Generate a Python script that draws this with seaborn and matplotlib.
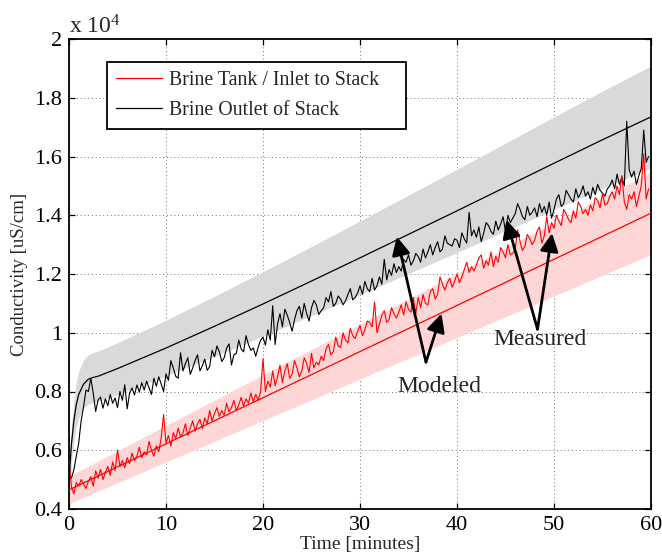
import numpy as np
import matplotlib
matplotlib.use("Agg")
import matplotlib.pyplot as plt
import seaborn as sns
from matplotlib.lines import Line2D

# ---------------- data (conductivity in units of 10^4 uS/cm) ----------------
series_names = ["Brine Tank / Inlet to Stack", "Brine Outlet of Stack"]
annotation_labels = ["Modeled", "Measured"]
x_ticks = [0, 10, 20, 30, 40, 50, 60]
y_ticks = [0.4, 0.6, 0.8, 1.0, 1.2, 1.4, 1.6, 1.8, 2.0]
y_tick_labels = ["0.4", "0.6", "0.8", "1", "1.2", "1.4", "1.6", "1.8", "2"]

# modeled inlet (linear)
inlet_model_time = [0, 20, 40, 60]
inlet_model_value = [0.465, 0.779, 1.093, 1.407]

# modeled outlet
outlet_model_time = [0, 0.25, 0.5, 0.75, 1.0, 1.5, 2.0, 2.5, 3.0, 5, 10, 15, 20, 25,
                     30, 35, 40, 45, 50, 55, 60]
outlet_model_value = [0.50, 0.62, 0.70, 0.755, 0.79, 0.825, 0.842, 0.848, 0.852, 0.878,
                      0.948, 1.022, 1.098, 1.176, 1.255, 1.335, 1.415, 1.496, 1.577,
                      1.657, 1.735]

model_uncertainty = 0.10  # +/- fraction of the shaded band

sample_minutes = 0.25
outlet_measured = [
    0.500, 0.505, 0.533, 0.580, 0.624, 0.700, 0.748, 0.805,
    0.800, 0.845, 0.794, 0.732, 0.771, 0.781, 0.743, 0.775,
    0.752, 0.790, 0.760, 0.778, 0.745, 0.800, 0.770, 0.823,
    0.741, 0.795, 0.812, 0.788, 0.822, 0.798, 0.830, 0.805,
    0.835, 0.812, 0.790, 0.845, 0.818, 0.850, 0.826, 0.800,
    0.860, 0.838, 0.905, 0.880, 0.852, 0.845, 0.932, 0.870,
    0.895, 0.915, 0.858, 0.880, 0.905, 0.925, 0.870, 0.888,
    0.910, 0.872, 0.885, 0.940, 0.918, 0.955, 0.935, 0.902,
    0.915, 0.948, 0.962, 0.890, 0.925, 0.930, 0.975, 0.945,
    0.935, 0.990, 0.960, 0.940, 0.948, 0.920, 0.950, 0.975,
    0.985, 0.958, 1.010, 0.975, 1.092, 0.960, 1.030, 1.065,
    1.020, 1.080, 1.060, 1.035, 1.005, 1.045, 1.075, 1.090,
    1.050, 1.100, 1.065, 1.040, 1.085, 1.110, 1.095, 1.062,
    1.075, 1.085, 1.120, 1.105, 1.140, 1.090, 1.100, 1.125,
    1.115, 1.095, 1.108, 1.130, 1.150, 1.112, 1.120, 1.135,
    1.160, 1.130, 1.175, 1.150, 1.140, 1.185, 1.145, 1.160,
    1.190, 1.165, 1.250, 1.180, 1.215, 1.195, 1.235, 1.205,
    1.225, 1.210, 1.250, 1.240, 1.265, 1.230, 1.245, 1.270,
    1.260, 1.240, 1.285, 1.255, 1.275, 1.300, 1.265, 1.290,
    1.310, 1.275, 1.285, 1.330, 1.305, 1.300, 1.295, 1.320,
    1.315, 1.290, 1.340, 1.320, 1.305, 1.410, 1.330, 1.350,
    1.325, 1.360, 1.310, 1.340, 1.375, 1.365, 1.345, 1.335,
    1.380, 1.350, 1.370, 1.395, 1.345, 1.400, 1.375, 1.390,
    1.405, 1.440, 1.420, 1.395, 1.385, 1.430, 1.400, 1.410,
    1.425, 1.395, 1.440, 1.410, 1.430, 1.400, 1.445, 1.390,
    1.420, 1.455, 1.470, 1.430, 1.440, 1.485, 1.470, 1.455,
    1.445, 1.490, 1.460, 1.475, 1.500, 1.465, 1.480, 1.455,
    1.495, 1.470, 1.505, 1.485, 1.475, 1.465, 1.490, 1.500,
    1.520, 1.490, 1.540, 1.505, 1.530, 1.500, 1.720, 1.555,
    1.530, 1.550, 1.505, 1.535, 1.560, 1.690, 1.580, 1.600,
]
inlet_measured = [
    0.567, 0.475, 0.452, 0.490, 0.478, 0.500, 0.485, 0.470,
    0.495, 0.510, 0.477, 0.530, 0.505, 0.535, 0.500, 0.525,
    0.545, 0.515, 0.560, 0.530, 0.600, 0.545, 0.565, 0.540,
    0.575, 0.555, 0.590, 0.565, 0.580, 0.610, 0.575, 0.595,
    0.585, 0.630, 0.600, 0.580, 0.615, 0.595, 0.640, 0.722,
    0.625, 0.650, 0.615, 0.660, 0.640, 0.675, 0.645, 0.660,
    0.690, 0.650, 0.675, 0.700, 0.665, 0.690, 0.705, 0.675,
    0.710, 0.690, 0.735, 0.700, 0.725, 0.745, 0.715, 0.735,
    0.720, 0.760, 0.730, 0.745, 0.770, 0.735, 0.755, 0.780,
    0.750, 0.775, 0.760, 0.795, 0.765, 0.790, 0.770, 0.800,
    0.912, 0.800, 0.835, 0.815, 0.870, 0.820, 0.850, 0.890,
    0.830, 0.870, 0.895, 0.845, 0.860, 0.905, 0.880, 0.850,
    0.870, 0.915, 0.895, 0.865, 0.930, 0.880, 0.900, 0.890,
    0.920, 0.905, 0.945, 0.960, 0.925, 0.935, 0.985, 0.955,
    0.950, 1.000, 0.975, 0.965, 1.015, 0.990, 0.980, 1.005,
    1.025, 0.990, 1.010, 1.040, 1.035, 1.020, 1.105, 1.000,
    1.030, 1.060, 1.075, 1.035, 1.045, 1.085, 1.065, 1.050,
    1.070, 1.095, 1.060, 1.105, 1.080, 1.070, 1.120, 1.065,
    1.120, 1.085, 1.130, 1.100, 1.095, 1.140, 1.150, 1.115,
    1.130, 1.190, 1.165, 1.145, 1.170, 1.185, 1.155, 1.175,
    1.200, 1.170, 1.190, 1.215, 1.240, 1.205, 1.225, 1.210,
    1.230, 1.255, 1.265, 1.220, 1.245, 1.230, 1.275, 1.225,
    1.260, 1.240, 1.290, 1.275, 1.255, 1.300, 1.265, 1.270,
    1.285, 1.350, 1.310, 1.280, 1.295, 1.335, 1.320, 1.300,
    1.315, 1.345, 1.360, 1.305, 1.330, 1.395, 1.340, 1.375,
    1.355, 1.400, 1.380, 1.365, 1.420, 1.405, 1.385, 1.375,
    1.415, 1.390, 1.445, 1.430, 1.405, 1.420, 1.400, 1.435,
    1.415, 1.460, 1.450, 1.425, 1.475, 1.435, 1.440, 1.465,
    1.480, 1.455, 1.500, 1.470, 1.535, 1.445, 1.420, 1.470,
    1.455, 1.480, 1.430, 1.465, 1.500, 1.610, 1.455, 1.490,
]

# annotation arrows: (tail, tip) in data coordinates
modeled_text_pos = (38.2, 0.816)
measured_text_pos = (48.6, 0.978)
modeled_arrow_tail = (36.8, 0.900)
modeled_arrow_tips = [(33.8, 1.327), (38.4, 1.065)]
measured_arrow_tail = (48.3, 1.012)
measured_arrow_tips = [(45.1, 1.384), (49.8, 1.339)]

# ---------------- styling ----------------
sns.set_theme(style="white")
plt.rcParams["font.family"] = ["Liberation Serif", "DejaVu Serif"]
plt.rcParams["mathtext.fontset"] = "custom"
plt.rcParams["mathtext.rm"] = "Liberation Serif"
plt.rcParams["mathtext.it"] = "Liberation Serif:italic"

fig = plt.figure(figsize=(6.62, 5.58), dpi=100)
ax = fig.add_axes([69 / 662, 1 - 509 / 558, 582 / 662, 470 / 558])

red = "#ff0000"
pink = "#ffd6d6"
grey = "#d9d9d9"

inlet_model_t = np.asarray(inlet_model_time)
inlet_model_v = np.asarray(inlet_model_value)
outlet_model_t = np.asarray(outlet_model_time)
outlet_model_v = np.asarray(outlet_model_value)

ax.fill_between(outlet_model_t, outlet_model_v * (1 - model_uncertainty),
                outlet_model_v * (1 + model_uncertainty), color=grey, lw=0, zorder=1)
ax.fill_between(inlet_model_t, inlet_model_v * (1 - model_uncertainty),
                inlet_model_v * (1 + model_uncertainty), color=pink, lw=0, zorder=1)

measured_time = np.arange(len(outlet_measured)) * sample_minutes

sns.lineplot(x=measured_time, y=outlet_measured, ax=ax, color="black", lw=0.8,
             estimator=None, sort=False, zorder=3)
sns.lineplot(x=measured_time, y=inlet_measured, ax=ax, color=red, lw=0.8,
             estimator=None, sort=False, zorder=3)
sns.lineplot(x=outlet_model_t, y=outlet_model_v, ax=ax, color="black", lw=0.9,
             estimator=None, sort=False, zorder=4)
sns.lineplot(x=inlet_model_t, y=inlet_model_v, ax=ax, color=red, lw=0.9,
             estimator=None, sort=False, zorder=4)

ax.set_xlim(0, 60)
ax.set_ylim(0.4, 2.0)
ax.set_xticks(x_ticks)
ax.set_xticklabels([str(v) for v in x_ticks])
ax.set_yticks(y_ticks)
ax.set_yticklabels(y_tick_labels)

ax.set_axisbelow(True)
ax.grid(True, color="#444444", linestyle=(0, (1, 3.5)), lw=0.6)
for s in ax.spines.values():
    s.set_visible(True)
    s.set_color("black")
    s.set_linewidth(1.3)
ax.tick_params(direction="in", length=4.5, width=0.9, labelsize=16, pad=5,
               top=True, right=True, bottom=True, left=True, colors="black")

ax.set_xlabel("Time [minutes]", fontsize=14)
ax.set_ylabel("Conductivity [uS/cm]", fontsize=13.5)
ax.xaxis.set_label_coords(0.5, (509 - 536) / 470)
ax.yaxis.set_label_coords((28 - 69) / 582, 0.5)

ax.text(0.0, (509 - 33) / 470, r"x 10$^{4}$", transform=ax.transAxes,
        fontsize=17, ha="left", va="baseline")

handles = [Line2D([], [], color=red, lw=0.9), Line2D([], [], color="black", lw=0.9)]
leg = ax.legend(handles, series_names, loc="upper left",
                bbox_to_anchor=((107 - 69) / 582, 0.70, (406 - 107) / 582, (509 - 62) / 470 - 0.70),
                mode="expand", borderaxespad=0, fontsize=14.3, frameon=True, fancybox=False,
                framealpha=1, edgecolor="black", handlelength=2.3, handletextpad=0.35,
                borderpad=0.45, labelspacing=0.55)
leg.get_frame().set_linewidth(1.3)
leg.set_zorder(10)

arrow_kw = dict(arrowstyle="-|>,head_length=0.5,head_width=0.25", lw=2.0, color="black",
                shrinkA=0, shrinkB=0, mutation_scale=22)
for tip in modeled_arrow_tips:
    ax.annotate("", xy=tip, xytext=modeled_arrow_tail, arrowprops=arrow_kw, zorder=6)
for tip in measured_arrow_tips:
    ax.annotate("", xy=tip, xytext=measured_arrow_tail, arrowprops=arrow_kw, zorder=6)

ax.text(*modeled_text_pos, annotation_labels[0], fontsize=17, ha="center", va="center", zorder=7)
ax.text(*measured_text_pos, annotation_labels[1], fontsize=17, ha="center", va="center", zorder=7)

fig.savefig("out.png", dpi=100)
